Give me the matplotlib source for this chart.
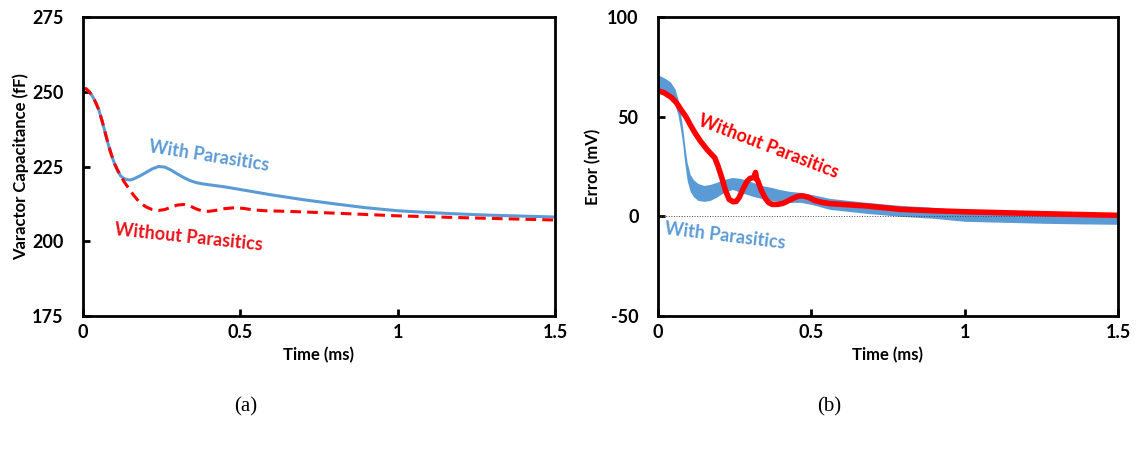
import matplotlib
matplotlib.use("Agg")
import matplotlib.pyplot as plt

plt.rcParams['font.family'] = ['Lato', 'DejaVu Sans']
plt.rcParams['axes.unicode_minus'] = False

# (a) varactor capacitance vs time
t_cap_with = [0, 0.01, 0.02, 0.03, 0.04, 0.05, 0.06, 0.07, 0.08, 0.09, 0.10, 0.11, 0.12, 0.13,
              0.14, 0.15, 0.16, 0.18, 0.2, 0.22, 0.24, 0.26, 0.28, 0.3, 0.32, 0.34, 0.36, 0.38,
              0.4, 0.45, 0.5, 0.55, 0.6, 0.7, 0.8, 0.9, 1.0, 1.1, 1.2, 1.3, 1.4, 1.5]
cap_with = [251, 251, 250, 248.5, 246.5, 244, 240.5, 236.5, 232.5, 229, 226, 223.5, 221.8, 221,
            220.6, 220.5, 220.8, 221.8, 223, 224.2, 225, 224.8, 223.8, 222.5, 221.3, 220.3,
            219.6, 219.2, 218.9, 218.2, 217.3, 216.4, 215.5, 213.9, 212.5, 211.2, 210.2, 209.6,
            209.1, 208.7, 208.4, 208.1]
t_cap_without = [0, 0.01, 0.02, 0.03, 0.04, 0.05, 0.06, 0.07, 0.08, 0.09, 0.10, 0.11, 0.12,
                 0.13, 0.14, 0.15, 0.16, 0.18, 0.2, 0.22, 0.24, 0.26, 0.28, 0.3, 0.32, 0.34,
                 0.36, 0.38, 0.4, 0.42, 0.45, 0.48, 0.51, 0.54, 0.58, 0.65, 0.8, 1.0, 1.2, 1.5]
cap_without = [251, 251, 250, 248.5, 246.5, 244, 240.5, 236.5, 232.5, 229, 226, 223.8, 222,
               220, 218.5, 217, 215.5, 213, 211.5, 210.6, 210.3, 210.6, 211.4, 212.1, 212.3,
               211.8, 210.8, 210.1, 210, 210.3, 210.9, 211.2, 211, 210.5, 210.2, 210, 209.4,
               208.5, 207.9, 207.1]

# (b) error vs time
t_err_without = [0, 0.01, 0.02, 0.03, 0.044, 0.06, 0.075, 0.091, 0.105, 0.12, 0.138, 0.16,
                 0.175, 0.185, 0.195, 0.208, 0.22, 0.232, 0.245, 0.255, 0.265, 0.278, 0.29,
                 0.3, 0.313, 0.318, 0.322, 0.325, 0.337, 0.35, 0.36, 0.372, 0.39, 0.407, 0.425,
                 0.44, 0.455, 0.47, 0.49, 0.51, 0.535, 0.56, 0.62, 0.68, 0.79, 0.9, 1.0, 1.13,
                 1.26, 1.38, 1.5]
err_without = [63, 62.5, 62, 61, 59.6, 57, 53.5, 50, 46, 42, 37.8, 33.5, 31, 29.4, 25.5, 19.4,
               13, 8.5, 7.3, 7.5, 9.5, 14, 17.5, 19, 19.5, 22, 18.5, 18, 13, 9, 7, 6, 6, 6.5,
               7.8, 9, 10, 10.3, 9.6, 8, 7, 6.4, 5.8, 5.2, 3.5, 2.8, 2.3, 1.8, 1.3, 0.9, 0.5]
t_err_with = [0, 0.02, 0.04, 0.055, 0.065, 0.072, 0.08, 0.087, 0.095, 0.105, 0.115, 0.13, 0.15,
              0.17, 0.19, 0.215, 0.243, 0.27, 0.29, 0.31, 0.337, 0.37, 0.395, 0.43, 0.465, 0.5,
              0.56, 0.62, 0.68, 0.79, 0.9, 1.0, 1.13, 1.26, 1.38, 1.5]
err_with_hi = [71, 69.5, 67.5, 64, 59, 53, 45, 36, 27, 21, 18.5, 16.5, 15.5, 16, 17, 18.5,
               19.5, 19, 18, 17, 15.5, 14.5, 13.5, 12.5, 12, 11, 9, 8, 7, 5.5, 4.5, 3, 2.8,
               2.3, 2, 1.8]
err_with_lo = [63, 62, 60, 56, 51, 45, 37, 27, 18, 12.5, 10, 8, 7.5, 8, 9.5, 12, 13.5, 12, 11,
               10, 9, 8, 7.5, 7, 7, 6, 3.5, 2.5, 1.5, 0, -1, -2.5, -3, -3.5, -3.8, -4]
spike_t = [0, 0]
spike_err = [63, 100]

blue = '#5b9bd5'
red = '#ff0000'

fig = plt.figure(figsize=(11.42, 4.5), dpi=100)
ax1 = fig.add_axes([83 / 1142, 1 - 316 / 450, 472 / 1142, 299 / 450])
ax2 = fig.add_axes([658 / 1142, 1 - 316 / 450, 460 / 1142, 299 / 450])

ax1.plot(t_cap_with, cap_with, color=blue, lw=2.2)
ax1.plot(t_cap_without, cap_without, color=red, lw=2.2, ls=(0, (3.5, 2)))
ax1.set_xlim(0, 1.5)
ax1.set_ylim(175, 275)
ax1.set_yticks([175, 200, 225, 250, 275])
ax1.set_ylabel('Varactor Capacitance (fF)', fontsize=12, fontweight='bold', labelpad=2)
ax1.text(0.40, 228.5, 'With Parasitics', color=blue, fontsize=13, fontweight='bold',
         rotation=-9, ha='center', va='center')
ax1.text(0.336, 201.2, 'Without Parasitics', color='#e8141c', fontsize=13, fontweight='bold',
         rotation=-6, ha='center', va='center')

ax2.axhline(0, color='#444444', lw=0.7, ls=':')
ax2.fill_between(t_err_with, err_with_lo, err_with_hi, color=blue, lw=0)
ax2.plot(spike_t, spike_err, color=red, lw=1.2, ls=':')
ax2.plot(t_err_without, err_without, color=red, lw=4)
ax2.set_xlim(0, 1.5)
ax2.set_ylim(-50, 100)
ax2.set_yticks([-50, 0, 50, 100])
ax2.set_ylabel('Error (mV)', fontsize=12, fontweight='bold', labelpad=4)
ax2.text(0.36, 35, 'Without Parasitics', color=red, fontsize=13, fontweight='bold',
         rotation=-21, ha='center', va='center')
ax2.text(0.22, -10, 'With Parasitics', color=blue, fontsize=13, fontweight='bold',
         rotation=-7, ha='center', va='center')

for ax in (ax1, ax2):
    ax.set_xticks([0, 0.5, 1, 1.5])
    ax.set_xticklabels(['0', '0.5', '1', '1.5'])
    for s in ax.spines.values():
        s.set_linewidth(2)
        s.set_color('black')
    ax.tick_params(direction='in', length=5, width=2, labelsize=13)
    ax.tick_params(axis='x', pad=6)
    ax.tick_params(axis='y', pad=14)
    for lbl in ax.get_xticklabels() + ax.get_yticklabels():
        lbl.set_fontweight('bold')
    ax.set_xlabel('Time (ms)', fontsize=12, fontweight='bold', labelpad=4)

fig.text(246 / 1142, 1 - 407 / 450, '(a)', fontsize=15, family='Liberation Serif',
         ha='center', va='center')
fig.text(829 / 1142, 1 - 407 / 450, '(b)', fontsize=15, family='Liberation Serif',
         ha='center', va='center')

fig.savefig('out.png', dpi=100)
